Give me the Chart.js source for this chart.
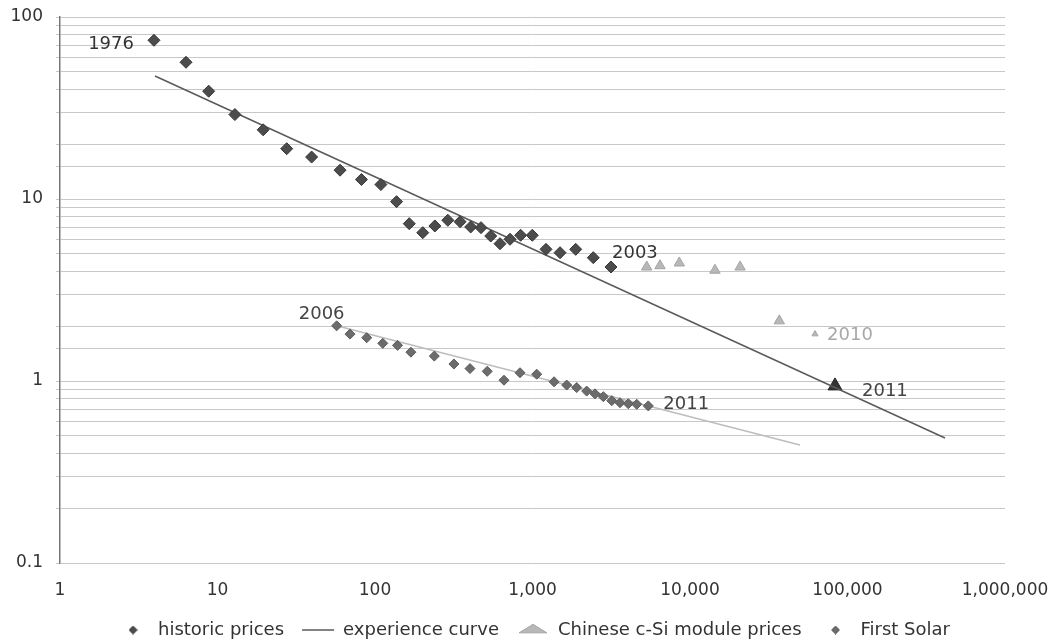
<!doctype html>
<html lang="en">
<head>
  <meta charset="utf-8">
  <title>PV module price experience curve</title>
  <style>
    html, body { margin: 0; padding: 0; background: #fff; }
    canvas { display: block; }
  </style>
</head>
<body>
  <canvas id="chart" width="1059" height="643"></canvas>

  <script src="https://cdn.jsdelivr.net/npm/chart.js"></script>
  <script>
    // historic module prices (cumulative MW vs $/W), 1976 .. 2003
    const historicX = [3.95, 6.31, 8.79, 12.9, 19.5, 27.5, 39.6, 60, 82, 109, 137, 165, 201, 240, 290, 347, 405, 471, 543, 622, 720, 841, 997, 1218, 1496, 1881, 2432, 3150];
    const historicY = [74.5, 56.4, 39.1, 29.1, 24.0, 18.9, 17.0, 14.4, 12.8, 12.0, 9.67, 7.32, 6.53, 7.11, 7.64, 7.50, 7.02, 6.96, 6.26, 5.68, 6.01, 6.32, 6.32, 5.29, 5.07, 5.29, 4.76, 4.23];

    // Chinese c-Si module prices
    const chineseX = [5310, 6450, 8550, 14400, 20800, 36900, 62200];
    const chineseY = [4.23, 4.30, 4.45, 4.06, 4.23, 2.14, 1.81];
    const chinese2011X = [83300];
    const chinese2011Y = [0.94];

    // First Solar, 2006 .. 2011
    const firstSolarX = [57.1, 69.4, 88.6, 112, 139, 169, 238, 317, 401, 516, 659, 833, 1063, 1370, 1649, 1908, 2208, 2494, 2817, 3185, 3593, 4059, 4590, 5435];
    const firstSolarY = [2.01, 1.81, 1.73, 1.61, 1.57, 1.44, 1.37, 1.24, 1.17, 1.13, 1.01, 1.11, 1.09, 0.99, 0.95, 0.92, 0.88, 0.85, 0.82, 0.78, 0.76, 0.75, 0.745, 0.73];

    // experience curves (end points)
    const curveX = [4.01, 416000];
    const curveY = [47.4, 0.486];
    const fsCurveX = [57.1, 49900];
    const fsCurveY = [2.01, 0.445];

    // axis ticks
    const xTicks = [1, 10, 100, 1000, 10000, 100000, 1000000];
    const yTickLabels = [0.1, 1, 10, 100];

    // year notes
    const noteText = ['1976', '2003', '2006', '2011', '2010', '2011'];
    const noteX = [3.95, 3150, 57.1, 5435, 62200, 83300];
    const noteY = [74.5, 4.23, 2.01, 0.73, 1.81, 0.94];

    const noteStyle = [
      { dx: -20, dy: 4, align: 'right', color: '#333' },
      { dx: 1, dy: -14, align: 'left', color: '#333' },
      { dx: -15, dy: -11, align: 'center', color: '#444' },
      { dx: 15, dy: -2, align: 'left', color: '#444' },
      { dx: 12, dy: 1, align: 'left', color: '#a8a8a8' },
      { dx: 27, dy: 5, align: 'left', color: '#444' }
    ];

    const FONT = '"DejaVu Sans", Arial, sans-serif';
    Chart.defaults.font.family = FONT;
    Chart.defaults.color = '#333';

    function pts(xs, ys) {
      return xs.map((v, i) => ({ x: v, y: ys[i] }));
    }

    function withCommas(v) {
      return String(Math.round(v)).replace(/\B(?=(\d{3})+(?!\d))/g, ',');
    }

    // small diamond for the legend so it is not stretched by pointStyleWidth
    function diamondImage(fill, stroke, size) {
      const c = document.createElement('canvas');
      c.width = size;
      c.height = size;
      const g = c.getContext('2d');
      const h = size / 2;
      g.beginPath();
      g.moveTo(h, 0.5);
      g.lineTo(size - 0.5, h);
      g.lineTo(h, size - 0.5);
      g.lineTo(0.5, h);
      g.closePath();
      g.fillStyle = fill;
      g.fill();
      g.strokeStyle = stroke;
      g.stroke();
      return c;
    }

    const legendHidden = ['First Solar curve', 'Chinese 2011'];

    const yearNotes = {
      id: 'yearNotes',
      afterDatasetsDraw(chart) {
        const ctx = chart.ctx;
        const x = chart.scales.x, y = chart.scales.y;
        ctx.save();
        ctx.font = '18px ' + FONT;
        ctx.textBaseline = 'middle';
        for (let i = 0; i < noteText.length; i++) {
          const s = noteStyle[i];
          ctx.fillStyle = s.color;
          ctx.textAlign = s.align;
          ctx.fillText(noteText[i], x.getPixelForValue(noteX[i]) + s.dx, y.getPixelForValue(noteY[i]) + s.dy);
        }
        ctx.restore();
      }
    };

    const chart = new Chart(document.getElementById('chart'), {
      type: 'scatter',
      data: {
        datasets: [{
          label: 'historic prices',
          data: pts(historicX, historicY),
          pointStyle: 'rectRot',
          pointRadius: 6,
          backgroundColor: '#4c4c4c',
          borderColor: '#363636',
          borderWidth: 1
        }, {
          label: 'experience curve',
          data: pts(curveX, curveY),
          showLine: true,
          pointRadius: 0,
          pointStyle: 'line',
          borderColor: '#5a5a5a',
          backgroundColor: '#5a5a5a',
          borderWidth: 1.5
        }, {
          label: 'Chinese c-Si module prices',
          data: pts(chineseX, chineseY),
          pointStyle: 'triangle',
          pointRadius: [6, 6, 6, 6, 6, 6, 3.5],
          backgroundColor: '#b8b8b8',
          borderColor: '#a4a4a4',
          borderWidth: 1
        }, {
          label: 'First Solar',
          data: pts(firstSolarX, firstSolarY),
          pointStyle: 'rectRot',
          pointRadius: 5,
          backgroundColor: '#6c6c6c',
          borderColor: '#5a5a5a',
          borderWidth: 1
        }, {
          label: 'Chinese 2011',
          data: pts(chinese2011X, chinese2011Y),
          pointStyle: 'triangle',
          pointRadius: 8,
          backgroundColor: '#333',
          borderColor: '#222',
          borderWidth: 1
        }, {
          label: 'First Solar curve',
          data: pts(fsCurveX, fsCurveY),
          showLine: true,
          pointRadius: 0,
          borderColor: '#bdbdbd',
          borderWidth: 1.5
        }]
      },
      options: {
        responsive: false,
        animation: false,
        layout: { padding: { top: 17, right: 0, bottom: -6, left: 8 } },
        scales: {
          x: {
            type: 'logarithmic',
            min: 1,
            max: 1000000,
            grid: { display: false },
            border: { display: false },
            afterBuildTicks: (scale) => { scale.ticks = xTicks.map(v => ({ value: v })); },
            afterFit: (scale) => {
              scale.height = 40;
              scale.paddingLeft = 0;
              scale.paddingRight = 54;
            },
            ticks: {
              autoSkip: false,
              maxRotation: 0,
              padding: 9,
              color: '#333',
              font: { size: 17 },
              callback: (v) => withCommas(v)
            }
          },
          y: {
            type: 'logarithmic',
            min: 0.1,
            max: 100,
            afterFit: (scale) => {
              scale.width = 52;
              scale.paddingTop = 0;
              scale.paddingBottom = 0;
            },
            grid: {
              color: '#c8c8c8',
              lineWidth: 1,
              tickLength: 4
            },
            border: { display: true, color: '#777', width: 1.5 },
            ticks: {
              autoSkip: false,
              padding: 13,
              color: '#333',
              font: { size: 17 },
              callback: (v) => {
                const hit = yTickLabels.find(t => Math.abs(t - v) < t * 1e-6);
                return hit === undefined ? '' : String(hit);
              }
            }
          }
        },
        plugins: {
          tooltip: { enabled: false },
          legend: {
            position: 'bottom',
            labels: {
              usePointStyle: true,
              pointStyleWidth: 32,
              boxHeight: 8,
              padding: 18,
              color: '#333',
              font: { size: 18 },
              filter: (item) => !legendHidden.includes(item.text),
              generateLabels: (c) => {
                const items = Chart.defaults.plugins.legend.labels.generateLabels(c);
                items.forEach(it => {
                  if (it.pointStyle === 'rectRot') {
                    it.pointStyle = diamondImage(it.fillStyle, it.strokeStyle, 9);
                  }
                });
                return items;
              }
            }
          }
        }
      },
      plugins: [yearNotes]
    });
  </script>
</body>
</html>
